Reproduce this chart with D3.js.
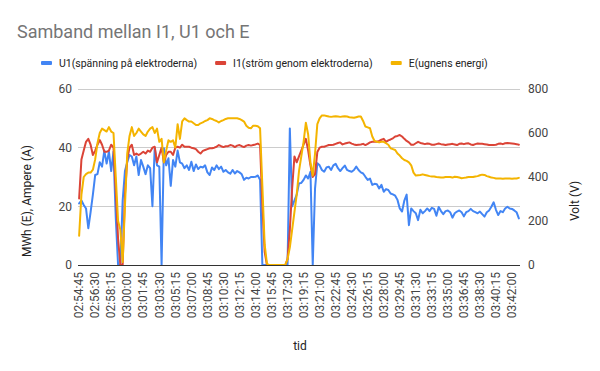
<!DOCTYPE html>
<html>
<head>
<meta charset="utf-8">
<script src="https://cdn.jsdelivr.net/npm/d3@7"></script>
<style>
  body { margin: 0; background: #fff; }
  svg text { font-family: Roboto, "Noto Sans", sans-serif; }
</style>
</head>
<body>
<div id="chart"></div>
<script>

// x tick labels (every 7th sample, 15 s apart)
let tick_labels = ["02:54:45", "02:56:30", "02:58:15", "03:00:00", "03:01:45", "03:03:30", "03:05:15",
    "03:07:00", "03:08:45", "03:10:30", "03:12:15", "03:14:00", "03:15:45", "03:17:30", "03:19:15",
    "03:21:00", "03:22:45", "03:24:30", "03:26:15", "03:28:00", "03:29:45", "03:31:30", "03:33:15",
    "03:35:00", "03:36:45", "03:38:30", "03:40:15", "03:42:00"];

// U1, volt (right axis)
let u1_values = [
    280, 293, 273, 257, 167, 240, 320, 409, 413, 467,
    447, 520, 461, 515, 427, 515, 213, 0, 0, 293,
    427, 467, 500, 493, 453, 493, 409, 477, 447, 413,
    453, 440, 267, 533, 453, 447, 0, 531, 453, 485,
    360, 477, 447, 520, 467, 461, 440,
    453, 432, 469, 427, 457, 436, 447, 443, 453, 421,
    409, 443, 432, 453, 436, 447, 424, 432, 421, 415,
    432, 416, 427, 421, 412, 387, 397, 393, 400, 400,
    401, 407, 387, 0, 0, 0, 0, 0, 0, 0,
    0, 0, 0, 0, 0, 621, 267, 293, 320, 371,
    373, 387, 407, 393, 424, 0, 347, 463, 453, 432,
    424, 443, 447, 432, 453, 460, 440, 427, 440, 452,
    432, 427, 424, 432, 447, 432, 421, 416, 401, 387,
    393, 364, 369, 367, 348, 364, 333, 345, 341, 325,
    321, 315, 296, 257, 243, 293, 320, 181, 257, 245,
    235, 204, 251, 235, 245, 257, 245, 260, 255, 224,
    264, 245, 231, 245, 248, 240, 215, 235, 243, 248,
    240, 221, 240, 245, 255, 245, 240, 235, 243, 231,
    220, 240, 248, 265, 285, 251, 227, 245, 240, 257,
    265, 257, 255, 248, 240, 212
];

// I1, ampere (left axis)
let i1_values = [
    22.7, 36, 39, 42, 43, 41, 37.5, 39, 41, 42.6,
    41, 38.6, 38.6, 39, 41, 40, 25, 9, 0, 0,
    24, 36, 40, 41, 37.5, 38, 37.5, 38, 38.6, 38,
    39, 38.6, 40, 40.3, 35, 37.5, 40, 35, 37.5, 38.6,
    38.6, 37.5, 40, 40.3, 40, 41, 40.3,
    40.3, 40.3, 40, 39.8, 39.5, 38.6, 38, 38.9, 39.2, 39.5,
    39.8, 39.8, 40, 40.3, 40.9, 40.5, 40.2, 40.5, 40.5, 40.9,
    40.7, 40.2, 40.7, 40.9, 40.5, 40.2, 40.7, 40.9, 40.7, 40.9,
    41.1, 41.4, 40.9, 20.5, 4.5, 0, 0, 0, 0, 0,
    0, 0, 0, 0, 2, 12, 26, 37, 35, 37,
    39, 41, 43, 39, 34, 30, 31, 38.5, 40, 40.3,
    40.3, 40.6, 40.9, 40.9, 41, 41.3, 41.6, 41.8, 41.1, 41.4,
    41.6, 41.8, 41.4, 41.1, 40.9, 41, 41.1, 41.3, 40.9, 41.3,
    41.8, 42, 42, 42, 42.3, 42.7, 43, 42, 42.5, 42.8,
    43.2, 43.8, 44, 44.3, 43.8, 43, 42.3, 41.8, 41, 41,
    41.5, 42, 41.6, 41.4, 41.2, 41.4, 41.3, 41, 41, 41.2,
    41.4, 41.2, 41.1, 40.9, 41.1, 41.2, 41.3, 41.1, 40.9, 41.3,
    41.4, 41.2, 41.4, 41.5, 41.1, 40.9, 41.2, 41.4, 41.3, 41.3,
    41.2, 41.1, 40.9, 40.9, 40.9, 41, 41.3, 41.4, 41.2, 41.5,
    41.6, 41.5, 41.4, 41.3, 41.2, 41
];

// E, MWh (left axis)
let e_values = [
    10, 24, 30, 31, 31.5, 31.5, 32.5, 36, 41.5, 45,
    46.5, 46, 45.5, 47, 45.5, 45, 30, 15, 12, 1,
    20, 38, 44, 47, 44, 45, 46.5, 45.5, 44.5, 44,
    45.5, 46.5, 47, 45, 46.5, 42, 43, 35, 39, 42.5,
    42, 42.5, 40, 48, 43, 49, 50,
    49.4, 48.9, 48.9, 48.3, 47.7, 47.7, 48.3, 48.6, 49.1, 49.4,
    50, 49.8, 49.4, 49.1, 48.6, 49.1, 49.4, 49.8, 50, 50,
    50, 50, 50, 49.8, 49.4, 48.9, 47.5, 46.8, 46.6, 47.5,
    47.5, 47.3, 46.6, 27, 7, 0.5, 0, 0, 0, 0,
    0, 0, 0, 0, 2, 6, 12, 18, 24, 32,
    37, 42, 48.5, 44.5, 35, 30.5, 38, 48, 50, 51,
    51, 50.8, 50.6, 50.5, 50.6, 50.7, 50.6, 50.5, 50.6, 50.7,
    50.6, 50.4, 50.3, 50.2, 50.4, 50.6, 50.6, 49.1, 47.2, 46.9,
    46.6, 43.8, 42.3, 42, 41.8, 42, 42, 41.5, 41, 39.8,
    39.5, 39.2, 38, 37.3, 36.4, 35.8, 35.5, 35, 34, 31.5,
    30.5, 30.6, 30.7, 30.9, 30.7, 30.5, 30.3, 30.2, 30.2, 30,
    29.9, 29.8, 29.8, 30, 30, 30, 29.8, 30.1, 30, 29.8,
    29.6, 29.7, 29.8, 30, 30, 30, 30.2, 30.3, 30.6, 30.8,
    30.7, 30.3, 30.1, 29.8, 29.7, 29.5, 29.5, 29.5, 29.4, 29.5,
    29.5, 29.5, 29.4, 29.5, 29.5, 29.7
];

let left_ticks = [0, 20, 40, 60];
let right_ticks = [0, 200, 400, 600, 800];

let series_names = ["U1(spänning på elektroderna)", "I1(ström genom elektroderna)", "E(ugnens energi)"];
let series_colors = ["#4285f4", "#db4437", "#f4b400"];

// category axis: one sample every 15 s from the first tick
let parse_time = d3.timeParse("%H:%M:%S");
let format_time = d3.timeFormat("%H:%M:%S");
let t0 = parse_time(tick_labels[0]);
let categories = u1_values.map((d, i) => format_time(d3.timeSecond.offset(t0, 15 * i)));

function draw_chart() {

    let chart_width = 600;
    let chart_height = 371;

    let plot_left = 78;
    let plot_right = 520;
    let plot_top = 89;
    let plot_bottom = 265;

    let svg = d3.select("#chart")
        .append("svg")
        .attr("width", chart_width)
        .attr("height", chart_height);

    svg.append("text")
        .attr("x", 17)
        .attr("y", 38)
        .attr("font-size", 18)
        .attr("fill", "#757575")
        .text("Samband mellan I1, U1 och E");

    let xScale = d3.scaleBand()
        .domain(categories)
        .range([plot_left, plot_right])
        .padding(0);

    let yLeft = d3.scaleLinear()
        .domain([0, 60])
        .range([plot_bottom, plot_top]);

    let yRight = d3.scaleLinear()
        .domain([0, 800])
        .range([plot_bottom, plot_top]);

    let xc = d => xScale(d) + xScale.bandwidth() / 2;

    // gridlines from the left axis
    svg.append("g")
        .selectAll("line")
        .data(left_ticks.filter(d => d > 0))
        .enter()
        .append("line")
        .attr("x1", plot_left)
        .attr("x2", plot_right)
        .attr("y1", d => yLeft(d))
        .attr("y2", d => yLeft(d))
        .attr("stroke", "#cccccc")
        .attr("stroke-width", 1)
        .attr("shape-rendering", "crispEdges");

    let left_axis = svg.append("g")
        .attr("transform", "translate(" + plot_left + ",0)")
        .call(d3.axisLeft(yLeft).tickValues(left_ticks).tickSize(0).tickPadding(6));
    left_axis.select(".domain").remove();
    left_axis.selectAll("text")
        .attr("font-size", 12)
        .attr("font-family", "Roboto")
        .attr("fill", "#444");

    let right_axis = svg.append("g")
        .attr("transform", "translate(" + plot_right + ",0)")
        .call(d3.axisRight(yRight).tickValues(right_ticks).tickSize(0).tickPadding(8));
    right_axis.select(".domain").remove();
    right_axis.selectAll("text")
        .attr("font-size", 12)
        .attr("font-family", "Roboto")
        .attr("fill", "#444");

    let x_axis = svg.append("g")
        .attr("transform", "translate(0," + plot_bottom + ")")
        .call(d3.axisBottom(xScale).tickValues(tick_labels).tickSize(0).tickPadding(0));
    x_axis.select(".domain").remove();
    x_axis.selectAll("text")
        .attr("font-size", 12)
        .attr("font-family", "Roboto")
        .attr("fill", "#444")
        .attr("text-anchor", "end")
        .attr("dy", "0.35em")
        .attr("transform", "translate(0,7) rotate(-90)");

    // axis titles
    svg.append("text")
        .attr("transform", "translate(31,201) rotate(-90)")
        .attr("text-anchor", "middle")
        .attr("font-size", 12)
        .attr("fill", "#222")
        .text("MWh (E), Ampere (A)");

    svg.append("text")
        .attr("transform", "translate(579,201) rotate(-90)")
        .attr("text-anchor", "middle")
        .attr("font-size", 12)
        .attr("fill", "#222")
        .text("Volt (V)");

    svg.append("text")
        .attr("x", 300)
        .attr("y", 350)
        .attr("text-anchor", "middle")
        .attr("font-size", 12)
        .attr("fill", "#222")
        .text("tid");

    // lines
    let line_left = d3.line()
        .x((d, i) => xc(categories[i]))
        .y(d => yLeft(d));

    let line_right = d3.line()
        .x((d, i) => xc(categories[i]))
        .y(d => yRight(d));

    let series = [
        { values: u1_values, line: line_right, color: series_colors[0] },
        { values: i1_values, line: line_left, color: series_colors[1] },
        { values: e_values, line: line_left, color: series_colors[2] }
    ];

    svg.append("g")
        .selectAll("path")
        .data(series)
        .enter()
        .append("path")
        .attr("d", d => d.line(d.values))
        .attr("fill", "none")
        .attr("stroke", d => d.color)
        .attr("stroke-width", 2)
        .attr("stroke-linejoin", "round")
        .attr("stroke-linecap", "round");

    // zero baseline drawn over the lines
    svg.append("line")
        .attr("x1", plot_left)
        .attr("x2", plot_right)
        .attr("y1", yLeft(0))
        .attr("y2", yLeft(0))
        .attr("stroke", "#333")
        .attr("stroke-width", 1)
        .attr("shape-rendering", "crispEdges");

    // legend
    let legend = svg.append("g");
    let lx = 41;
    let ly = 63;
    series_names.forEach(function(name, i) {
        legend.append("rect")
            .attr("x", lx)
            .attr("y", ly - 2)
            .attr("width", 11)
            .attr("height", 4)
            .attr("rx", 1)
            .attr("fill", series_colors[i]);
        let t = legend.append("text")
            .attr("x", lx + 18)
            .attr("y", ly)
            .attr("dy", "0.35em")
            .attr("font-size", 10.5)
            .attr("fill", "#222")
            .text(name);
        lx += 18 + t.node().getComputedTextLength() + 18;
    });
}

draw_chart();
</script>
</body>
</html>
